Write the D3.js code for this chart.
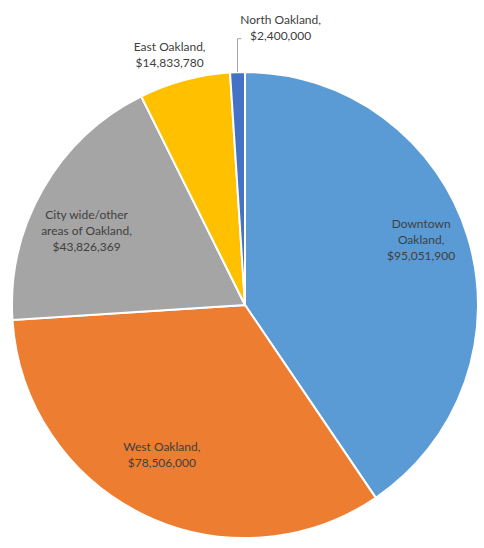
<!DOCTYPE html>
<html><head><meta charset="utf-8">
<script src="https://cdn.jsdelivr.net/npm/d3@7"></script>
<style>html,body{margin:0;padding:0;background:#fff;}</style>
</head><body>
<svg id="chart" width="484" height="548"></svg>
<script>
const categories = ["Downtown Oakland", "West Oakland", "City wide/other areas of Oakland", "East Oakland", "North Oakland"];
const values = [95051900, 78506000, 43826369, 14833780, 2400000];
const labelLines = [
  ["Downtown", "Oakland,", "$95,051,900"],
  ["West Oakland,", "$78,506,000"],
  ["City wide/other", "areas of Oakland,", "$43,826,369"],
  ["East Oakland,", "$14,833,780"],
  ["North Oakland,", "$2,400,000"]
];
const colors = ["#5B9BD5", "#ED7D31", "#A5A5A5", "#FFC000", "#4472C4"];

const svg = d3.select("#chart");
const cx = 245, cy = 305, R = 233;
const g = svg.append("g").attr("transform", `translate(${cx},${cy})`);
const data = categories.map((c, i) => ({c, v: values[i], i}));
const pie = d3.pie().value(d => d.v).sort(null);
const arcs = pie(data);
const arc = d3.arc().innerRadius(0).outerRadius(R);
g.selectAll("path").data(arcs).join("path")
  .attr("d", arc).attr("fill", d => colors[d.data.i])
  .attr("stroke", "#fff").attr("stroke-width", 2);

// label placement: inside for large slices, outside for small ones
const place = [
  {r: 0.806 * R, da: -0.056},
  {r: 0.735 * R, da: 0.052},
  {r: 0.75 * R, da: -0.087},
  {r: 1.12 * R, da: -0.03},
  {r: 1.20 * R, da: 0.16}
];
const lh = 16;
arcs.forEach((a, k) => {
  const p = place[k];
  const mid = (a.startAngle + a.endAngle) / 2 + p.da;
  const x = p.r * Math.sin(mid);
  const y = -p.r * Math.cos(mid);
  const lines = labelLines[a.data.i];
  const t = g.append("text").attr("text-anchor", "middle")
    .attr("font-family", "Lato, 'Open Sans', sans-serif").attr("font-size", 12)
    .attr("fill", "#404040");
  lines.forEach((ln, j) => {
    t.append("tspan").attr("x", x)
      .attr("y", y + (j - (lines.length - 1) / 2) * lh + 4).text(ln);
  });
  if (k === 4) {
    // leader line from slice edge to label
    const am = (a.startAngle + a.endAngle) / 2;
    const ex = R * Math.sin(am), ey = -R * Math.cos(am);
    const ly = y + lh / 2 + 3;
    g.append("path")
      .attr("d", `M${ex},${ey}L${ex},${ly}L${ex + 4},${ly}`)
      .attr("fill", "none").attr("stroke", "#A6A6A6").attr("stroke-width", 1);
  }
});
</script>
</body></html>
